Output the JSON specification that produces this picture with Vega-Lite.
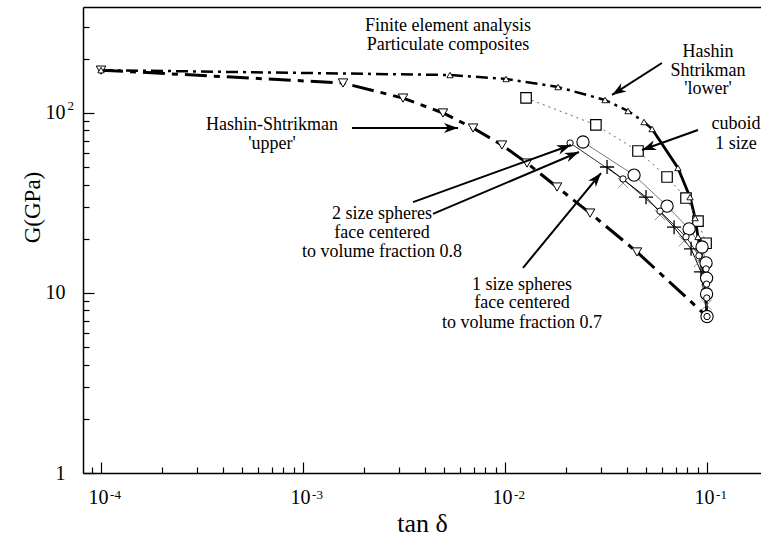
{
  "$schema": "https://vega.github.io/schema/vega-lite/v6.json",
  "width": 678,
  "height": 466,
  "autosize": {"type": "none"},
  "padding": {"left": 83, "top": 7, "right": 0, "bottom": 63},
  "background": "white",
  "config": {
    "view": {"stroke": null},
    "font": "Liberation Serif",
    "text": {"font": "Liberation Serif"},
    "axis": {"domainColor": "black", "tickColor": "black", "labelColor": "black", "titleColor": "black", "grid": false, "labelFont": "Liberation Serif", "titleFont": "Liberation Serif", "titleFontWeight": "normal", "domainWidth": 1.5, "tickWidth": 1.2, "labelFlush": false, "labelOverlap": false}
  },
  "datasets": {
    "dummy": [{"x": 0.001, "y": 10}],
    "curves": [
      {"s": "upper", "x": 0.0001, "y": 173},
      {"s": "upper", "x": 0.001578, "y": 146.8},
      {"s": "upper", "x": 0.003126, "y": 121},
      {"s": "upper", "x": 0.00493, "y": 100},
      {"s": "upper", "x": 0.00695, "y": 82.5},
      {"s": "upper", "x": 0.00966, "y": 66.4},
      {"s": "upper", "x": 0.01285, "y": 52.7},
      {"s": "upper", "x": 0.01809, "y": 38.8},
      {"s": "upper", "x": 0.02636, "y": 27.8},
      {"s": "upper", "x": 0.04501, "y": 16.9},
      {"s": "upper", "x": 0.1, "y": 7.4},
      {"s": "lower", "x": 0.0001, "y": 173},
      {"s": "lower", "x": 0.00534, "y": 162.6},
      {"s": "lower", "x": 0.01012, "y": 154.5},
      {"s": "lower", "x": 0.0183, "y": 139.4},
      {"s": "lower", "x": 0.03126, "y": 118.1},
      {"s": "lower", "x": 0.04064, "y": 102.6},
      {"s": "lower", "x": 0.04877, "y": 89.1},
      {"s": "lower", "x": 0.05345, "y": 81.5},
      {"s": "lower", "x": 0.07178, "y": 49.5},
      {"s": "lower", "x": 0.0824, "y": 34.1},
      {"s": "lower", "x": 0.0873, "y": 26.1},
      {"s": "lower", "x": 0.0902, "y": 20.5},
      {"s": "lower", "x": 0.0945, "y": 15.6},
      {"s": "lower", "x": 0.0978, "y": 11.5},
      {"s": "lower", "x": 0.1, "y": 7.4},
      {"s": "cuboid", "x": 0.01271, "y": 121.2},
      {"s": "cuboid", "x": 0.02818, "y": 85.8},
      {"s": "cuboid", "x": 0.04552, "y": 61.5},
      {"s": "cuboid", "x": 0.0634, "y": 44.1},
      {"s": "cuboid", "x": 0.0787, "y": 33.7},
      {"s": "cuboid", "x": 0.0902, "y": 25.1},
      {"s": "cuboid", "x": 0.0989, "y": 18.9},
      {"s": "one", "x": 0.03199, "y": 50.1},
      {"s": "one", "x": 0.04989, "y": 34.1},
      {"s": "one", "x": 0.06868, "y": 23.2},
      {"s": "one", "x": 0.0834, "y": 17.6},
      {"s": "one", "x": 0.0934, "y": 13.1},
      {"s": "one", "x": 0.1, "y": 7.4},
      {"s": "twoL", "x": 0.02432, "y": 69.0},
      {"s": "twoL", "x": 0.04352, "y": 45.2},
      {"s": "twoL", "x": 0.0634, "y": 30.4},
      {"s": "twoL", "x": 0.0815, "y": 22.7},
      {"s": "twoL", "x": 0.0945, "y": 18.0},
      {"s": "twoL", "x": 0.0989, "y": 14.7},
      {"s": "twoL", "x": 0.0995, "y": 12.1},
      {"s": "twoL", "x": 0.0995, "y": 9.87},
      {"s": "twoL", "x": 0.1, "y": 7.4},
      {"s": "twoS", "x": 0.02099, "y": 68.1},
      {"s": "twoS", "x": 0.03838, "y": 43.0},
      {"s": "twoS", "x": 0.05851, "y": 28.5},
      {"s": "twoS", "x": 0.0787, "y": 20.5},
      {"s": "twoS", "x": 0.0912, "y": 16.1},
      {"s": "twoS", "x": 0.0989, "y": 13.6},
      {"s": "twoS", "x": 0.0995, "y": 11.2},
      {"s": "twoS", "x": 0.0997, "y": 9.38},
      {"s": "twoS", "x": 0.1, "y": 7.4},
      {"s": "cross", "x": 0.0384, "y": 40.8},
      {"s": "cross", "x": 0.0585, "y": 27.1},
      {"s": "cross", "x": 0.0769, "y": 19.4},
      {"s": "cross", "x": 0.0912, "y": 14.9},
      {"s": "cross", "x": 0.0989, "y": 11.1},
      {"s": "cross", "x": 0.0995, "y": 8.58}
    ],
    "notes": [
      {"t": "Finite element analysis", "x": 0.00522, "y": 305},
      {"t": "Particulate composites", "x": 0.00522, "y": 240},
      {"t": "Hashin", "x": 0.1011, "y": 218},
      {"t": "Shtrikman", "x": 0.1011, "y": 172},
      {"t": "'lower'", "x": 0.1011, "y": 136},
      {"t": "Hashin-Shtrikman", "x": 0.000703, "y": 85.5},
      {"t": "'upper'", "x": 0.000703, "y": 67.5},
      {"t": "cuboid", "x": 0.1392, "y": 86.5},
      {"t": "1 size", "x": 0.1392, "y": 67.5},
      {"t": "2 size spheres", "x": 0.00246, "y": 27.3},
      {"t": "face centered", "x": 0.00246, "y": 21.5},
      {"t": "to volume fraction 0.8", "x": 0.00246, "y": 17.0},
      {"t": "1 size spheres", "x": 0.01214, "y": 11.1},
      {"t": "face centered", "x": 0.01214, "y": 8.75},
      {"t": "to volume fraction 0.7", "x": 0.01214, "y": 6.85}
    ],
    "arrows": [
      {"x": 0.0598, "y": 189.6, "x2": 0.03388, "y2": 126},
      {"x": 0.001749, "y": 82.5, "x2": 0.00585, "y2": 82.5},
      {"x": 0.0902, "y": 80.4, "x2": 0.04766, "y2": 62.3},
      {"x": 0.003505, "y": 32.0, "x2": 0.02122, "y2": 66.4},
      {"x": 0.0044, "y": 27.5, "x2": 0.02323, "y2": 60.7},
      {"x": 0.01228, "y": 13.8, "x2": 0.02986, "y2": 46.4}
    ]
  },
  "encoding": {
    "x": {"field": "x", "type": "quantitative", "scale": {"type": "log", "domain": [0.00008145, 0.185], "nice": false}, "axis": null},
    "y": {"field": "y", "type": "quantitative", "scale": {"type": "log", "domain": [1, 388], "nice": false}, "axis": null}
  },
  "layer": [
    {
      "data": {"name": "dummy"},
      "mark": {"type": "point", "opacity": 0},
      "encoding": {
        "x": {"field": "x", "type": "quantitative", "scale": {"type": "log", "domain": [0.00008145, 0.185], "nice": false},
          "axis": {"orient": "bottom", "values": [0.0001, 0.001, 0.01, 0.1], "labelExpr": "'10'", "labelFontSize": 20, "labelPadding": 25, "tickSize": -11, "labelOffset": -3, "labelBaseline": "top", "title": "tan δ", "titleFontSize": 26, "titleY": 58, "titleBaseline": "alphabetic"}},
        "y": {"field": "y", "type": "quantitative", "scale": {"type": "log", "domain": [1, 388], "nice": false},
          "axis": {"orient": "left", "values": [1, 10, 100], "labelExpr": "datum.value == 1 ? '1' : '10'", "labelFontSize": 20, "labelPadding": 29, "tickSize": -11, "labelBaseline": "middle", "title": "G(GPa)", "titleFontSize": 23, "titleX": -51, "titleY": 200, "titleAngle": 270, "titleBaseline": "middle", "titleAlign": "center"}}
      }
    },
    {
      "data": {"name": "dummy"},
      "mark": {"type": "point", "opacity": 0},
      "encoding": {
        "x": {"field": "x", "type": "quantitative", "scale": {"type": "log", "domain": [0.00008145, 0.185], "nice": false},
          "axis": {"orient": "bottom", "values": [0.00009, 0.0002, 0.0003, 0.0004, 0.0005, 0.0006, 0.0007, 0.0008, 0.0009, 0.002, 0.003, 0.004, 0.005, 0.006, 0.007, 0.008, 0.009, 0.02, 0.03, 0.04, 0.05, 0.06, 0.07, 0.08, 0.09], "labels": false, "domain": false, "tickSize": -6, "title": null}},
        "y": {"field": "y", "type": "quantitative", "scale": {"type": "log", "domain": [1, 388], "nice": false},
          "axis": {"orient": "left", "values": [2, 3, 4, 5, 6, 7, 8, 9, 20, 30, 40, 50, 60, 70, 80, 90, 200, 300], "labels": false, "domain": false, "tickSize": -6, "title": null}}
      }
    },
    {
      "data": {"name": "dummy"},
      "mark": {"type": "point", "opacity": 0},
      "encoding": {
        "x": {"field": "x", "type": "quantitative", "scale": {"type": "log", "domain": [0.00008145, 0.185], "nice": false},
          "axis": {"orient": "bottom", "values": [0.0001, 0.001, 0.01, 0.1], "ticks": false, "domain": false, "labelExpr": "'-' + (-round(log(datum.value) / LN10))", "labelFontSize": 13, "labelPadding": 15, "labelOffset": 14, "labelBaseline": "top", "title": null}},
        "y": {"field": "y", "type": "quantitative", "scale": {"type": "log", "domain": [1, 388], "nice": false},
          "axis": {"orient": "left", "values": [100], "ticks": false, "domain": false, "labelExpr": "'2'", "labelFontSize": 13, "labelPadding": 16, "labelAlign": "left", "labelOffset": -7, "title": null}}
      }
    },
    {
      "data": {"name": "dummy"},
      "mark": {"type": "point", "opacity": 0},
      "encoding": {
        "x": {"field": "x", "type": "quantitative", "scale": {"type": "log", "domain": [0.00008145, 0.185], "nice": false},
          "axis": {"orient": "top", "ticks": false, "labels": false, "domain": true, "title": null}}
      }
    },
    {"data": {"name": "curves"}, "transform": [{"filter": "datum.s == 'upper'"}], "mark": {"type": "line", "stroke": "black", "strokeWidth": 3, "strokeDash": [22, 7, 6, 7]}, "encoding": {"order": {"value": null}}},
    {"data": {"name": "curves"}, "transform": [{"filter": "datum.s == 'lower' && datum.x <= 0.05345"}], "mark": {"type": "line", "stroke": "black", "strokeWidth": 2.5, "strokeDash": [12, 5, 3, 5]}, "encoding": {"order": {"value": null}}},
    {"data": {"name": "curves"}, "transform": [{"filter": "datum.s == 'lower' && datum.x >= 0.05345"}], "mark": {"type": "line", "stroke": "black", "strokeWidth": 2.8}, "encoding": {"order": {"value": null}}},
    {"data": {"name": "curves"}, "transform": [{"filter": "datum.s == 'cuboid'"}], "mark": {"type": "line", "stroke": "#666666", "strokeWidth": 1, "strokeDash": [2, 4]}, "encoding": {"order": {"value": null}}},
    {"data": {"name": "curves"}, "transform": [{"filter": "datum.s == 'one'"}], "mark": {"type": "line", "stroke": "black", "strokeWidth": 1}, "encoding": {"order": {"value": null}}},
    {"data": {"name": "curves"}, "transform": [{"filter": "datum.s == 'twoL'"}], "mark": {"type": "line", "stroke": "#555555", "strokeWidth": 0.8}, "encoding": {"order": {"value": null}}},
    {"data": {"name": "curves"}, "transform": [{"filter": "datum.s == 'twoS'"}], "mark": {"type": "line", "stroke": "black", "strokeWidth": 0.8}, "encoding": {"order": {"value": null}}},
    {"data": {"name": "curves"}, "transform": [{"filter": "datum.s == 'cross'"}], "mark": {"type": "point", "shape": "M-1,-1L1,1M-1,1L1,-1", "size": 110, "filled": false, "stroke": "#777777", "strokeWidth": 0.8, "opacity": 1}},
    {"data": {"name": "curves"}, "transform": [{"filter": "datum.s == 'cuboid'"}], "mark": {"type": "point", "shape": "square", "size": 110, "filled": true, "fill": "white", "stroke": "black", "strokeWidth": 1.2, "opacity": 1}},
    {"data": {"name": "curves"}, "transform": [{"filter": "datum.s == 'upper' && datum.x < 0.1"}], "mark": {"type": "point", "shape": "triangle-down", "size": 90, "filled": true, "fill": "white", "stroke": "black", "strokeWidth": 1, "opacity": 1}},
    {"data": {"name": "curves"}, "transform": [{"filter": "datum.s == 'lower' && datum.x < 0.1"}], "mark": {"type": "point", "shape": "triangle-up", "size": 40, "filled": true, "fill": "white", "stroke": "black", "strokeWidth": 0.9, "opacity": 1}},
    {"data": {"name": "curves"}, "transform": [{"filter": "datum.s == 'one' && datum.x < 0.1"}], "mark": {"type": "point", "shape": "M-1,0L1,0M0,-1L0,1", "size": 200, "filled": false, "stroke": "black", "strokeWidth": 1.3, "opacity": 1}},
    {"data": {"name": "curves"}, "transform": [{"filter": "datum.s == 'twoL'"}], "mark": {"type": "point", "shape": "circle", "size": 150, "filled": true, "fill": "white", "stroke": "black", "strokeWidth": 1.1, "opacity": 1}},
    {"data": {"name": "curves"}, "transform": [{"filter": "datum.s == 'twoS'"}], "mark": {"type": "point", "shape": "circle", "size": 40, "filled": true, "fill": "white", "stroke": "black", "strokeWidth": 1, "opacity": 1}},
    {"data": {"name": "arrows"}, "mark": {"type": "rule", "stroke": "black", "strokeWidth": 2}, "encoding": {"x2": {"field": "x2"}, "y2": {"field": "y2"}}},
    {"data": {"name": "arrows"}, "transform": [{"calculate": "atan2((log(datum.x2) - log(datum.x)) / LN10 * 202, (log(datum.y2) - log(datum.y)) / LN10 * 180) * 180 / PI", "as": "ang"}],
      "mark": {"type": "point", "shape": "M0,0L-0.42,1.2L0,0.85L0.42,1.2Z", "size": 550, "filled": true, "fill": "black", "strokeWidth": 0, "opacity": 1},
      "encoding": {
        "x": {"field": "x2", "type": "quantitative", "scale": {"type": "log", "domain": [0.00008145, 0.185], "nice": false}, "axis": null},
        "y": {"field": "y2", "type": "quantitative", "scale": {"type": "log", "domain": [1, 388], "nice": false}, "axis": null},
        "angle": {"field": "ang", "type": "quantitative", "scale": null}
      }},
    {"data": {"name": "notes"}, "mark": {"type": "text", "font": "Liberation Serif", "fontSize": 18, "align": "center", "baseline": "middle", "color": "black"}, "encoding": {"text": {"field": "t"}}}
  ],
  "resolve": {"axis": {"x": "independent", "y": "independent"}}
}
